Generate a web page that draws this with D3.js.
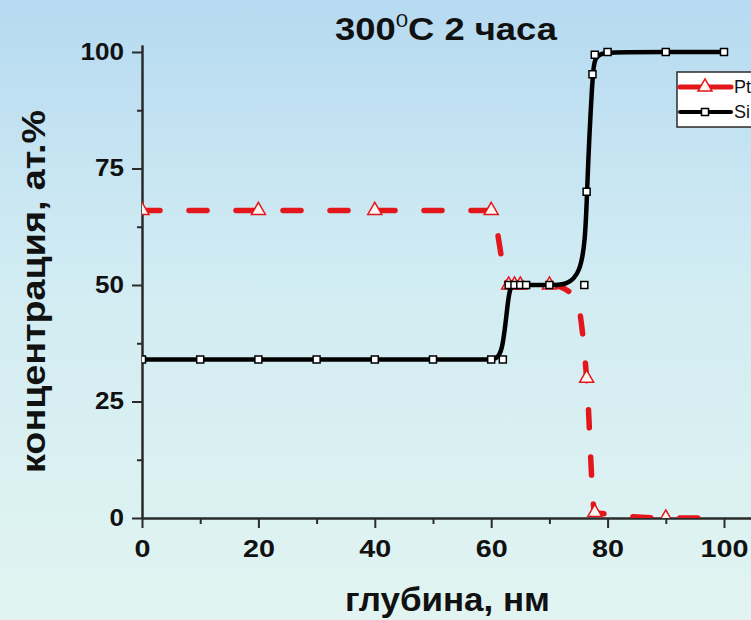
<!DOCTYPE html>
<html>
<head>
<meta charset="utf-8">
<script src="https://cdn.jsdelivr.net/npm/d3@7"></script>
<style>
  body { margin: 0; }
  svg { display: block; }
</style>
</head>
<body>
<div id="chart"></div>
<script>
// Depth profile data
// Pt markers
const depthPt = [0, 20, 40, 60, 63, 64, 65, 70, 76.4, 77.8, 90];
const concPt = [66, 66, 66, 66, 50, 50, 50, 50, 30, 1.2, 0];
const depthPtLine = [0, 20, 40, 60, 63, 64, 65, 70, 74.5, 76.4, 77.8, 90, 100];
const concPtLine = [66, 66, 66, 66, 50, 50, 50, 50, 47.5, 30, 1.2, 0, 0];
// Si
const depthSi = [0, 10, 20, 30, 40, 50, 60, 62, 63, 64, 65, 66, 70, 76, 76.4, 77.4, 77.8, 80, 90, 100];
const concSi = [34, 34, 34, 34, 34, 34, 34, 34, 50, 50, 50, 50, 50, 50, 70, 95.2, 99.4, 100, 100, 100];

const xTicks = [0, 20, 40, 60, 80, 100];
const xMinor = [10, 30, 50, 70, 90];
const yTicks = [0, 25, 50, 75, 100];
const yMinor = [12.5, 37.5, 62.5, 87.5];
const seriesNames = ["Pt", "Si"];

const width = 751;
const height = 620;
const red = "#e3161b";
const axisColor = "#2b2b2b";
const font = "'Liberation Sans', Arial, sans-serif";

const svg = d3.select("#chart").append("svg").attr("width", width).attr("height", height);

// background gradient
const defs = svg.append("defs");
const grad = defs.append("linearGradient").attr("id", "bg").attr("x1", 0).attr("y1", 0).attr("x2", 0).attr("y2", 1);
grad.append("stop").attr("offset", "0%").attr("stop-color", "#b6daf1");
grad.append("stop").attr("offset", "45%").attr("stop-color", "#d2ecf3");
grad.append("stop").attr("offset", "100%").attr("stop-color", "#e1f4f1");
svg.append("rect").attr("width", width).attr("height", height).attr("fill", "url(#bg)");

// scales (x axis runs on past the right edge)
const x = d3.scaleLinear().domain([0, 104.64]).range([142, 751]);
const y = d3.scaleLinear().domain([0, 101.5]).range([518, 45]);

defs.append("clipPath").attr("id", "plotClip")
  .append("rect").attr("x", 142).attr("y", 30).attr("width", 620).attr("height", 488);

// axes
function styleAxis(g) {
  g.selectAll("path, line").attr("stroke", axisColor).attr("stroke-width", 2);
  g.selectAll("text")
    .attr("fill", "#111")
    .attr("font-family", font)
    .attr("font-weight", "bold")
    .attr("font-size", 23);
}

svg.append("g").attr("transform", "translate(0,518)")
  .call(d3.axisBottom(x).tickValues(xMinor).tickSize(6).tickSizeOuter(0).tickFormat(""))
  .call(styleAxis);
svg.append("g").attr("transform", "translate(0,518)")
  .call(d3.axisBottom(x).tickValues(xTicks).tickSize(10).tickSizeOuter(0).tickPadding(13))
  .call(styleAxis)
  .selectAll("text")
  .attr("textLength", (d) => String(d).length * 16)
  .attr("lengthAdjust", "spacingAndGlyphs");

svg.append("g").attr("transform", "translate(142,0)")
  .call(d3.axisLeft(y).tickValues(yMinor).tickSize(5).tickSizeOuter(0).tickFormat(""))
  .call(styleAxis);
svg.append("g").attr("transform", "translate(142,0)")
  .call(d3.axisLeft(y).tickValues(yTicks).tickSize(10).tickSizeOuter(0).tickPadding(8))
  .call(styleAxis)
  .selectAll("text")
  .attr("textLength", (d) => String(d).length * 14.5)
  .attr("lengthAdjust", "spacingAndGlyphs");

// data
const ptData = depthPt.map((d, i) => ({ x: d, y: concPt[i] }));
const ptLineData = depthPtLine.map((d, i) => ({ x: d, y: concPtLine[i] }));
const siData = depthSi.map((d, i) => ({ x: d, y: concSi[i] }));

const plot = svg.append("g").attr("clip-path", "url(#plotClip)");

const triangle = d3.symbol().type(d3.symbolTriangle).size(85);
const square = d3.symbol().type(d3.symbolSquare).size(49);

// Pt: red dashed
plot.append("path")
  .datum(ptLineData)
  .attr("fill", "none")
  .attr("stroke", red)
  .attr("stroke-width", 5.5)
  .attr("stroke-linecap", "round")
  .attr("stroke-dasharray", "18,29")
  .attr("d", d3.line().x((d) => x(d.x)).y((d) => y(d.y)).curve(d3.curveMonotoneX));

plot.selectAll(".pt")
  .data(ptData)
  .enter()
  .append("path")
  .attr("class", "pt")
  .attr("transform", (d) => `translate(${x(d.x)},${y(d.y)})`)
  .attr("d", triangle)
  .attr("fill", "#fff6f2")
  .attr("stroke", red)
  .attr("stroke-width", 1.5);

// Si: black solid
plot.append("path")
  .datum(siData)
  .attr("fill", "none")
  .attr("stroke", "#000")
  .attr("stroke-width", 4.5)
  .attr("d", d3.line().x((d) => x(d.x)).y((d) => y(d.y)).curve(d3.curveBasis));

plot.selectAll(".si")
  .data(siData)
  .enter()
  .append("path")
  .attr("class", "si")
  .attr("transform", (d) => `translate(${x(d.x)},${y(d.y)})`)
  .attr("d", square)
  .attr("fill", "#fff")
  .attr("stroke", "#000")
  .attr("stroke-width", 1.5);

// legend
const legend = svg.append("g").attr("transform", "translate(677,72)");
legend.append("rect").attr("width", 120).attr("height", 55)
  .attr("fill", "#fff").attr("stroke", axisColor).attr("stroke-width", 1.5);

const rows = legend.selectAll(".row")
  .data(seriesNames)
  .enter()
  .append("g")
  .attr("class", "row")
  .attr("transform", (d, i) => `translate(0,${15 + i * 25})`);

rows.append("line")
  .attr("x1", 3).attr("x2", 54)
  .attr("stroke", (d, i) => (i === 0 ? red : "#000"))
  .attr("stroke-width", (d, i) => (i === 0 ? 5 : 4))
  .attr("stroke-linecap", "round");

rows.append("path")
  .attr("transform", "translate(28,0)")
  .attr("d", (d, i) => (i === 0 ? triangle() : square()))
  .attr("fill", (d, i) => (i === 0 ? "#fff6f2" : "#fff"))
  .attr("stroke", (d, i) => (i === 0 ? red : "#000"))
  .attr("stroke-width", 1.5);

rows.append("text")
  .attr("x", 57)
  .attr("dy", "0.36em")
  .attr("font-family", font)
  .attr("font-size", 18)
  .attr("fill", "#111")
  .text((d) => d);

// title
const title = svg.append("text")
  .attr("x", 335)
  .attr("y", 40)
  .attr("font-family", font)
  .attr("font-weight", "bold")
  .attr("font-size", 31)
  .attr("fill", "#111")
  .attr("textLength", 222)
  .attr("lengthAdjust", "spacingAndGlyphs");
title.append("tspan").text("300");
title.append("tspan").attr("dy", -13).attr("font-size", 19).attr("font-weight", "normal").text("0");
title.append("tspan").attr("dy", 13).text("C 2 часа");

// axis titles
svg.append("text")
  .attr("x", 345)
  .attr("y", 611)
  .attr("font-family", font)
  .attr("font-weight", "bold")
  .attr("font-size", 34)
  .attr("fill", "#111")
  .attr("textLength", 205)
  .attr("lengthAdjust", "spacingAndGlyphs")
  .text("глубина, нм");

svg.append("text")
  .attr("transform", "translate(45,473) rotate(-90)")
  .attr("font-family", font)
  .attr("font-weight", "bold")
  .attr("font-size", 34)
  .attr("fill", "#111")
  .attr("textLength", 363)
  .attr("lengthAdjust", "spacingAndGlyphs")
  .text("концентрация, ат.%");
</script>
</body>
</html>
